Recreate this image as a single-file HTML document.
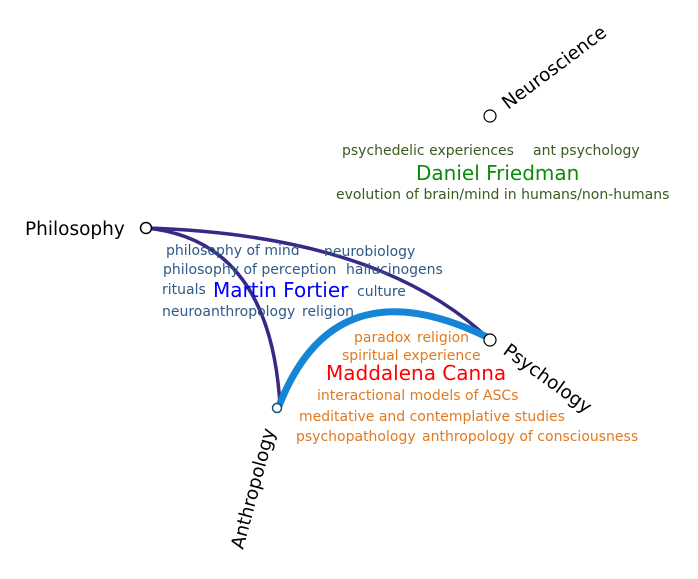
<!DOCTYPE html>
<html><head><style>
html,body{margin:0;padding:0;background:#fff;}
svg{display:block;font-family:"DejaVu Sans","Liberation Sans",sans-serif;}
</style></head><body>
<svg width="698" height="579" viewBox="0 0 698 579" xmlns="http://www.w3.org/2000/svg">
<path d="M146,228 Q270,240 280,405" fill="none" stroke="#372a86" stroke-width="3.5"/>
<path d="M146,228 Q380,235 490,340" fill="none" stroke="#372a86" stroke-width="3.5"/>
<path d="M279,406 Q335,262 489,338" fill="none" stroke="#1585d6" stroke-width="7"/>
<circle cx="146" cy="228" r="5.5" fill="#fff" stroke="#000" stroke-width="1.5"/>
<circle cx="490" cy="116" r="6" fill="#fff" stroke="#000" stroke-width="1.2"/>
<circle cx="490" cy="340" r="6" fill="#fff" stroke="#000" stroke-width="1.2"/>
<circle cx="277" cy="408" r="4.5" fill="#fff" stroke="#1a4f7a" stroke-width="1.5"/>
<g font-size="18.5" fill="#000">
<text x="25" y="235">Philosophy</text>
<text transform="translate(508,110) rotate(-37)">Neuroscience</text>
<text transform="translate(502,353) rotate(36)">Psychology</text>
<text transform="translate(243,550) rotate(-75)">Anthropology</text>
</g>
<g font-size="14" fill="#3b5a1e">
<text x="342" y="155">psychedelic experiences</text>
<text x="533" y="155">ant psychology</text>
<text x="336" y="199">evolution of brain/mind in humans/non-humans</text>
</g>
<text x="416" y="180" font-size="20" fill="#0b8a0b">Daniel Friedman</text>
<g font-size="14" fill="#2d5a87">
<text x="166" y="255">philosophy of mind</text>
<text x="324" y="256">neurobiology</text>
<text x="163" y="274">philosophy of perception</text>
<text x="346" y="274">hallucinogens</text>
<text x="162" y="294">rituals</text>
<text x="357" y="296">culture</text>
<text x="162" y="316">neuroanthropology</text>
<text x="302" y="316">religion</text>
</g>
<text x="213" y="297" font-size="20" fill="#0000ff">Martin Fortier</text>
<g font-size="14" fill="#e07a20">
<text x="354" y="342">paradox</text>
<text x="417" y="342">religion</text>
<text x="342" y="360">spiritual experience</text>
<text x="317" y="400">interactional models of ASCs</text>
<text x="299" y="421">meditative and contemplative studies</text>
<text x="296" y="441">psychopathology</text>
<text x="422" y="441">anthropology of consciousness</text>
</g>
<text x="326" y="380" font-size="20" fill="#ff0000">Maddalena Canna</text>
</svg>
</body></html>
